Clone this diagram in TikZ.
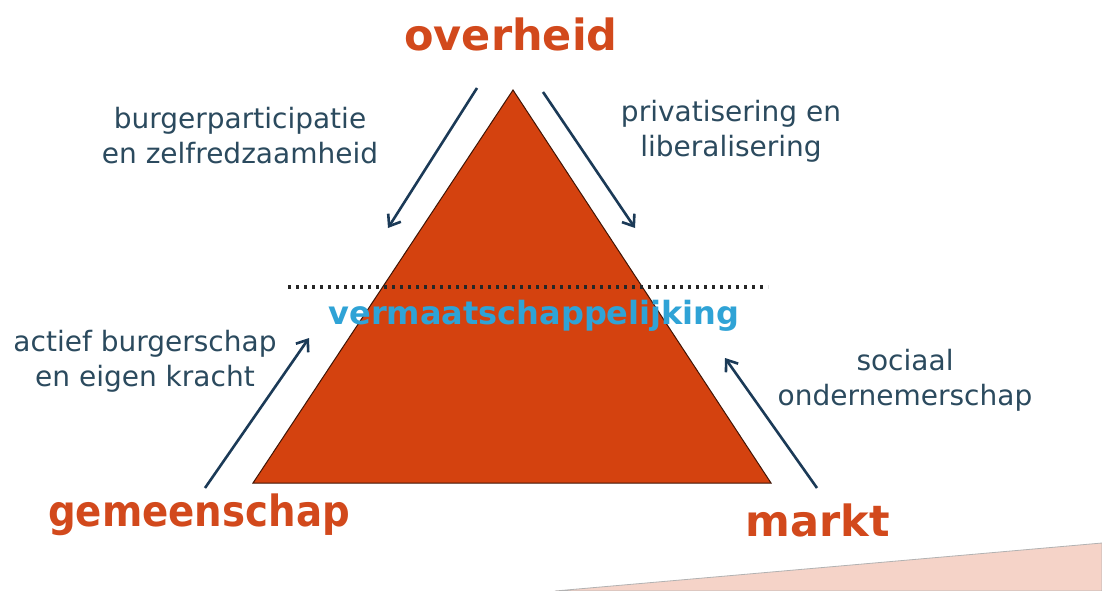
\documentclass[tikz,border=0pt]{standalone}
\usepackage{fontspec}
\setmainfont{DejaVu Sans}
\usetikzlibrary{arrows.meta}
\definecolor{tri}{HTML}{D4420F}
\definecolor{title}{HTML}{D2491C}
\definecolor{lbl}{HTML}{2B4A5E}
\definecolor{arr}{HTML}{1B3A57}
\definecolor{vm}{HTML}{2FA3D6}
\definecolor{pinkbg}{HTML}{F5D3C8}
\tikzset{
  titletext/.style={font=\fontsize{43}{45}\selectfont\bfseries, text=title, inner sep=0pt},
  lbltext/.style={font=\fontsize{28}{35}\selectfont, text=lbl, align=center, inner sep=0pt},
  flow/.style={draw=arr, line width=2.6pt, -{Straight Barb[length=10pt,width=15pt,line width=2.6pt]}},
}
\begin{document}
\begin{tikzpicture}[x=1pt,y=-1pt]
\useasboundingbox (0,0) rectangle (1102,591);
\fill[white] (0,0) rectangle (1102,591);
\fill[pinkbg, draw=gray!60, line width=0.8pt] (555,591) -- (1102,543) -- (1102,591) -- cycle;
\coordinate (apex) at (513,90);
\coordinate (bl) at (253,483);
\coordinate (br) at (771,483);
\fill[tri, draw=black!70!tri, line width=1pt] (apex) -- (bl) -- (br) -- cycle;
\coordinate (dl) at (288,287);
\coordinate (dr) at (768,287);
\draw[black!85, line width=3.2pt, dash pattern=on 3pt off 5pt] (dl) -- (dr);
\node[font=\fontsize{32}{36}\selectfont\bfseries, text=vm, inner sep=0pt] (vmz) at (534,316) {vermaatschappelijking};
\node[titletext] (overheid) at (511,34) {overheid};
\node[titletext] (gemeenschap) at (199,515) {\scalebox{0.9}[1]{gemeenschap}};
\node[titletext] (markt) at (818,520) {markt};
\node[lbltext] (bp) at (240,136) {burgerparticipatie\\en zelfredzaamheid};
\node[lbltext] (pl) at (731,131) {privatisering en\\liberalisering};
\node[lbltext] (ab) at (145,361) {actief burgerschap\\en eigen kracht};
\node[lbltext] (so) at (905,380) {sociaal\\ondernemerschap};
\coordinate (a1s) at (477,88);
\coordinate (a1e) at (388,228);
\coordinate (a2s) at (543,92);
\coordinate (a2e) at (635,228);
\coordinate (a3s) at (205,488);
\coordinate (a3e) at (309,338);
\coordinate (a4s) at (817,488);
\coordinate (a4e) at (725,358);
\draw[flow] (a1s) -- (a1e);
\draw[flow] (a2s) -- (a2e);
\draw[flow] (a3s) -- (a3e);
\draw[flow] (a4s) -- (a4e);
\end{tikzpicture}
\end{document}
